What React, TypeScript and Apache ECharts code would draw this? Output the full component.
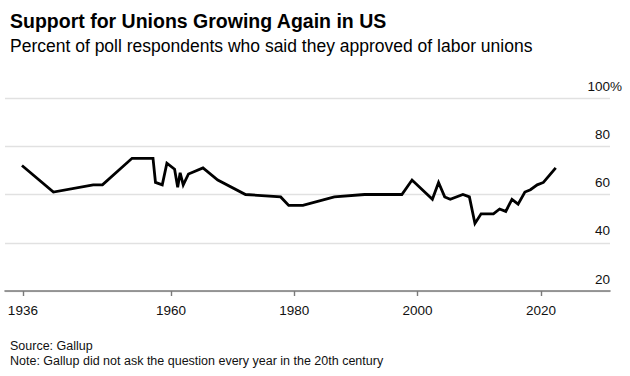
import React, { useEffect, useRef } from "react";
import * as echarts from "echarts";

const pollYears = [1935.85, 1940.95, 1947.4, 1948.9, 1953.7, 1957.1, 1957.5, 1958.6, 1959.35, 1960.6, 1961.1, 1961.5, 1962.0, 1962.85, 1965.2, 1967.6, 1972.1, 1977.8, 1979.1, 1981.4, 1986.5, 1991.4, 1997.45, 1999.1, 2002.4, 2003.4, 2004.4, 2005.3, 2007.35, 2008.4, 2009.3, 2010.3, 2012.3, 2013.3, 2014.3, 2015.3, 2016.3, 2017.4, 2018.3, 2019.4, 2020.4, 2021.4, 2022.4];
const approval = [72, 61, 64, 64, 75, 75, 65, 64, 73, 70.5, 63, 69, 64, 68.5, 71, 66, 60, 59, 55.5, 55.5, 59, 60, 60, 66, 58, 65, 59, 58, 60, 59, 48, 52, 52, 54, 53, 58, 56, 61, 62, 64, 65, 68, 71];
const xTicks = [1936, 1960, 1980, 2000, 2020];
const yTicks = [20, 40, 60, 80, 100];

const FONT = "'Liberation Sans', Arial, Helvetica, sans-serif";

export default function App() {
  const ref = useRef<HTMLDivElement>(null);
  useEffect(() => {
    document.body.style.margin = "0";
    if (!ref.current) return;
    const chart = echarts.init(ref.current, null, { renderer: "svg" });
    chart.setOption({
      animation: false,
      backgroundColor: "#fff",
      title: [
        {
          text: "Support for Unions Growing Again in US",
          left: 5,
          top: 6,
          textStyle: { fontFamily: FONT, fontSize: 19.5, fontWeight: "bold", color: "#000", lineHeight: 19.5 },
        },
        {
          text: "Percent of poll respondents who said they approved of labor unions",
          left: 5,
          top: 32,
          textStyle: { fontFamily: FONT, fontSize: 17.5, fontWeight: "normal", color: "#000", lineHeight: 17.5 },
        },
        {
          text: "Source: Gallup\nNote: Gallup did not ask the question every year in the 20th century",
          left: 5,
          top: 333,
          textStyle: { fontFamily: FONT, fontSize: 12.5, fontWeight: "normal", color: "#111", lineHeight: 15 },
        },
      ],
      grid: { left: 5, right: 20, top: 98, bottom: 85, containLabel: false },
      xAxis: {
        type: "value",
        min: 1933.1,
        max: 2031.2,
        axisLine: { show: true, lineStyle: { color: "#7a7a7a", width: 1.6 } },
        axisTick: { show: true, customValues: xTicks, length: 5, lineStyle: { color: "#7a7a7a", width: 1.4 } },
        axisLabel: {
          customValues: xTicks,
          margin: 12,
          fontFamily: FONT,
          fontSize: 13.5,
          color: "#111",
          formatter: (v: number) => String(v),
        },
        splitLine: { show: false },
      },
      yAxis: {
        type: "value",
        position: "right",
        min: 20,
        max: 100,
        interval: 20,
        axisLine: { show: false },
        axisTick: { show: false },
        axisLabel: {
          inside: false,
          margin: 12,
          align: "right",
          verticalAlign: "bottom",
          lineHeight: 14,
          padding: [0, 0, 5, 0],
          fontFamily: FONT,
          fontSize: 13.5,
          color: "#111",
          formatter: (v: number) =>
            v === yTicks[yTicks.length - 1] ? `{v|${v}}{p|%}` : `{v|${v}}{h|%}`,
          rich: {
            v: { fontFamily: FONT, fontSize: 13.5, color: "#111", lineHeight: 14 },
            p: { fontFamily: FONT, fontSize: 13.5, color: "#111", lineHeight: 14 },
            h: { fontFamily: FONT, fontSize: 13.5, color: "rgba(0,0,0,0)", lineHeight: 14 },
          },
        },
        splitLine: { show: true, lineStyle: { color: "#e1e1e1", width: 1.3 } },
      },
      series: [
        {
          type: "line",
          data: pollYears.map((y, i) => [y, approval[i]]),
          symbol: "none",
          lineStyle: { color: "#000", width: 2.8, join: "miter" },
        },
      ],
    });
    return () => chart.dispose();
  }, []);
  return <div ref={ref} style={{ width: 630, height: 376 }} />;
}
